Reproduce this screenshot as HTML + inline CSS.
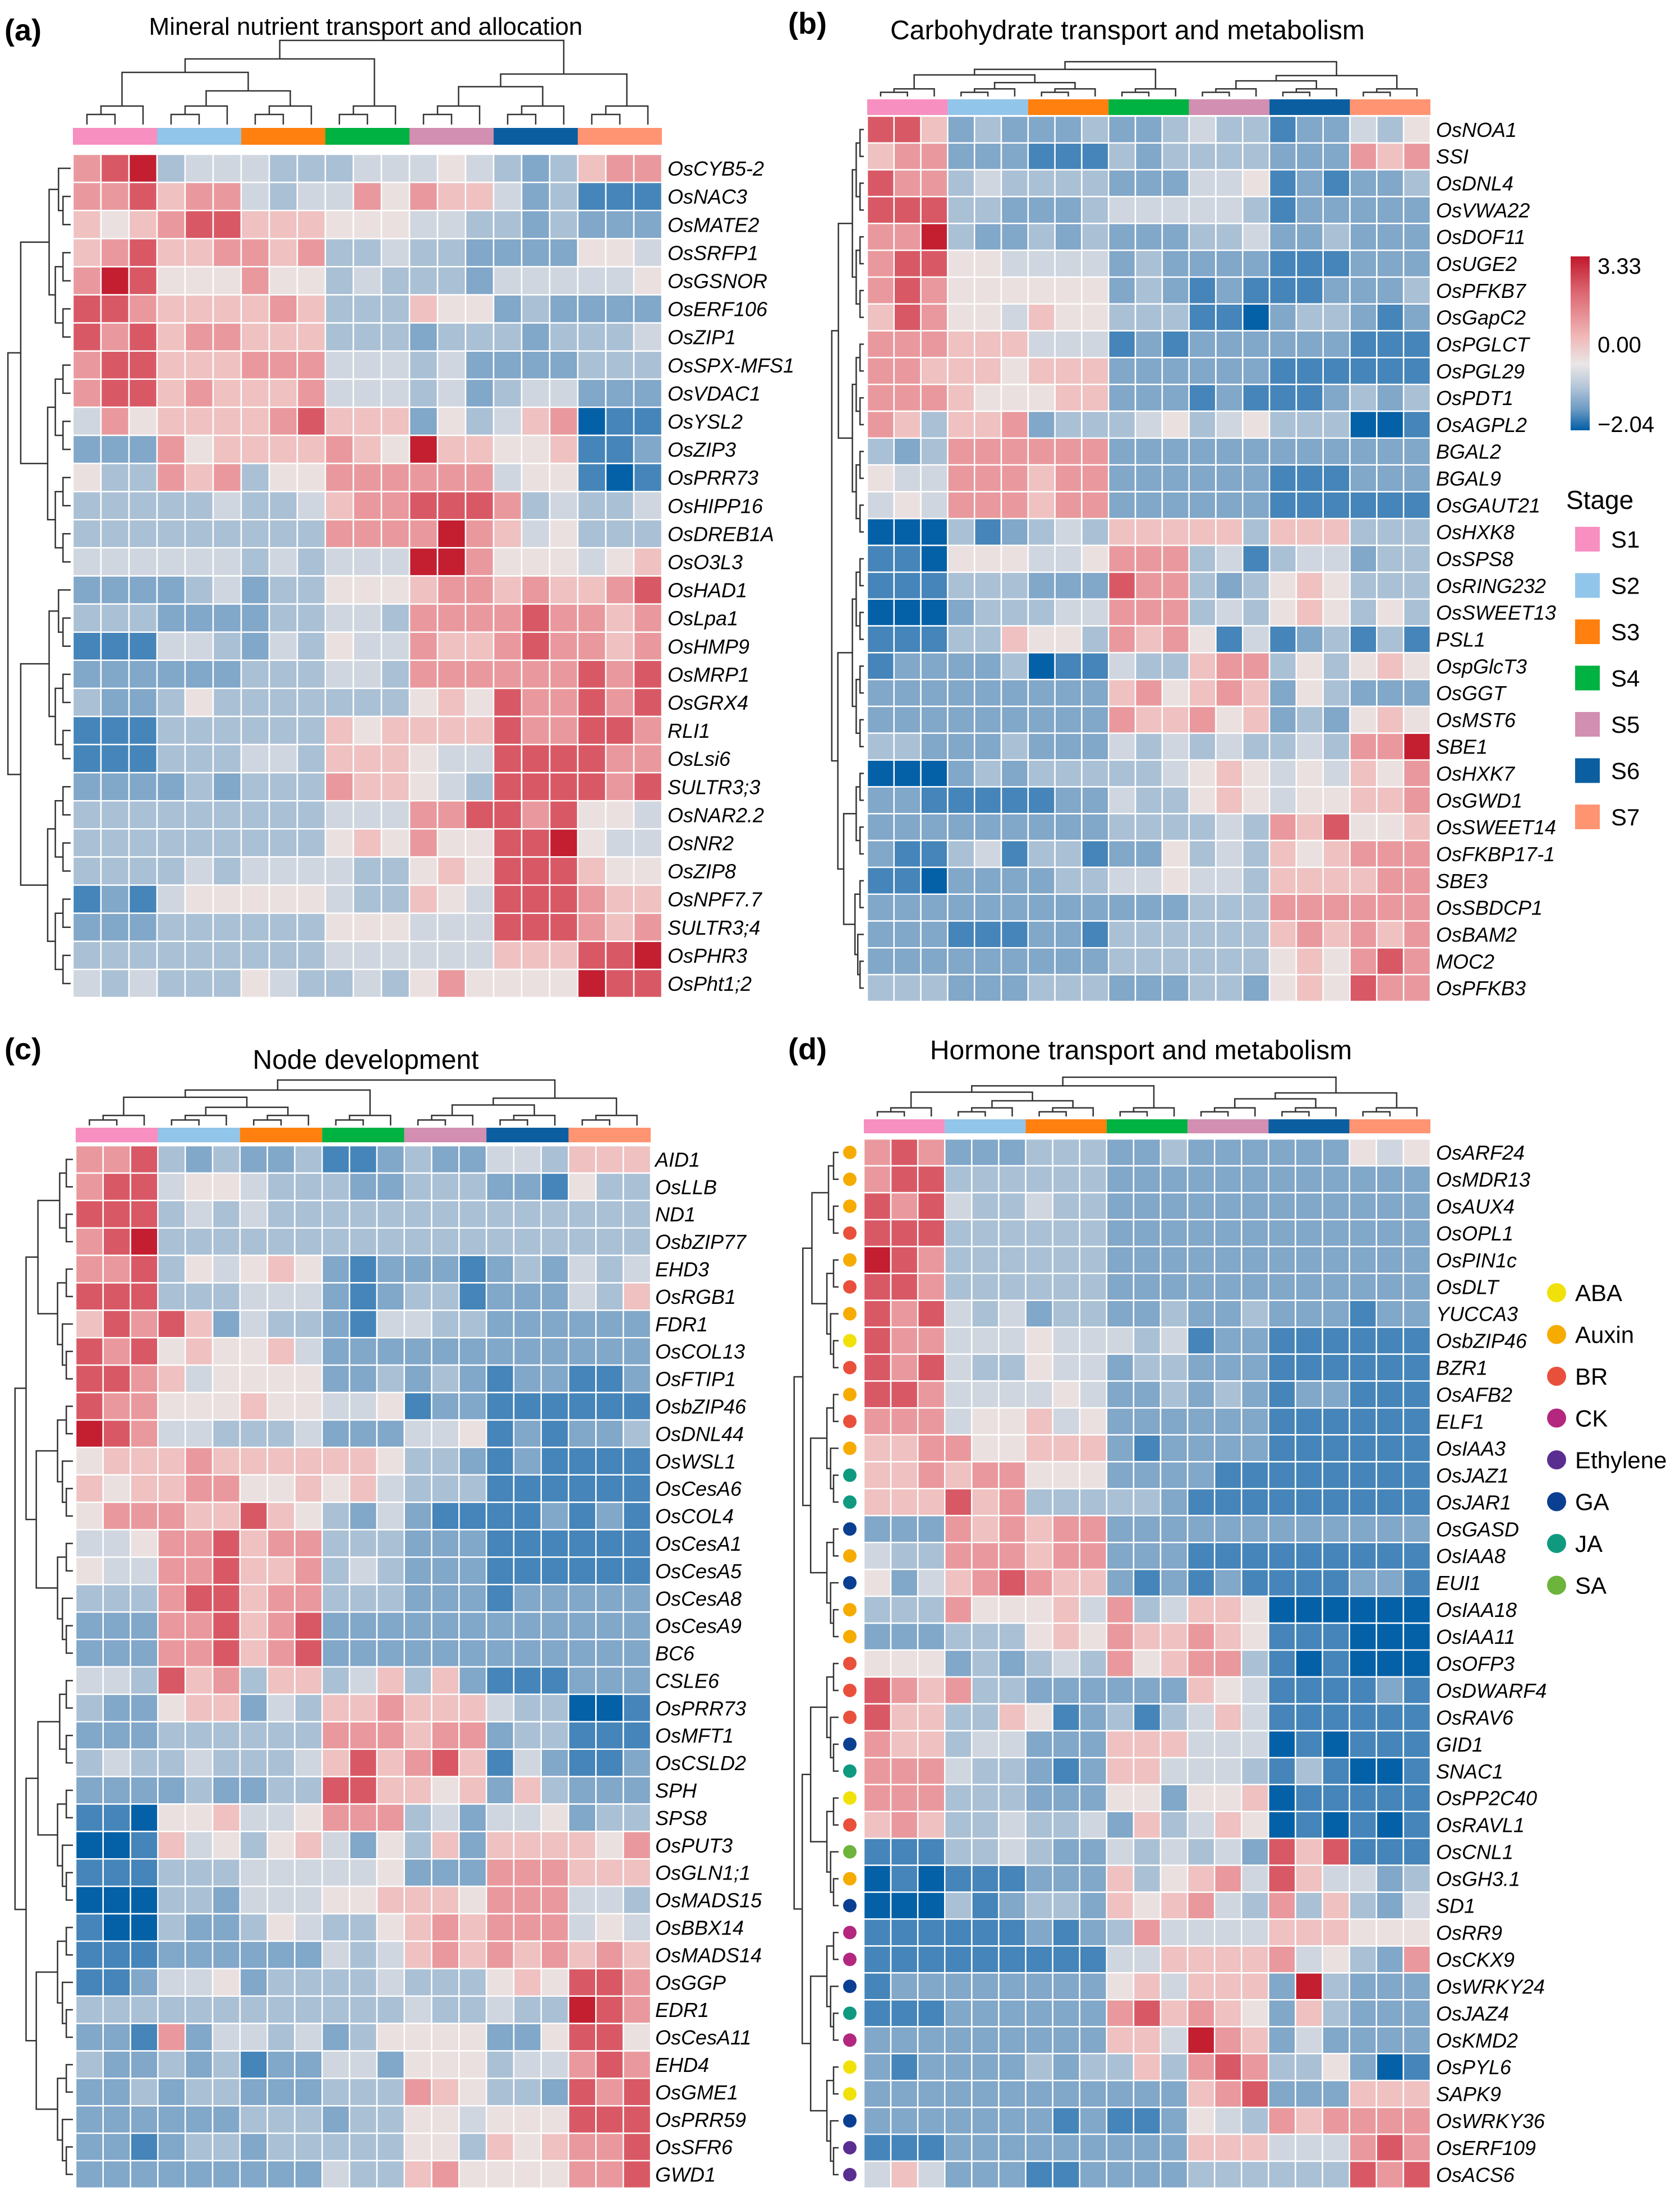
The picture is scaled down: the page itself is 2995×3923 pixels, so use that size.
<!DOCTYPE html>
<html><head><meta charset="utf-8"><style>
html,body{margin:0;padding:0;background:#fff;}
svg{display:block;font-family:"Liberation Sans",sans-serif;}
</style></head><body>
<svg id="fig" xmlns="http://www.w3.org/2000/svg" width="2995" height="3923" viewBox="0 0 2995 3923">
<rect width="2995" height="3923" fill="#fff"/>
<text x="8" y="72" font-size="54" font-weight="bold">(a)</text>
<text x="652" y="62" font-size="44" text-anchor="middle">Mineral nutrient transport and allocation</text>
<text x="1405" y="60" font-size="54" font-weight="bold">(b)</text>
<text x="2010" y="70" font-size="48" text-anchor="middle">Carbohydrate transport and metabolism</text>
<text x="8" y="1888" font-size="54" font-weight="bold">(c)</text>
<text x="652" y="1905" font-size="48" text-anchor="middle">Node development</text>
<text x="1405" y="1888" font-size="54" font-weight="bold">(d)</text>
<text x="2034" y="1888" font-size="48" text-anchor="middle">Hormone transport and metabolism</text>
<g id="layer"></g>
</svg>
<script>
// value codes: 0 = darkest blue ... 9 = darkest red
const codeValues=[-2.0,-1.5,-1.0,-0.6,-0.25,0.1,0.6,1.2,2.2,3.2];
const stageNames=["S1","S2","S3","S4","S5","S6","S7"];
const stageColors=["#f78fc0","#92c5ea","#ff800e","#00b241","#d28fb1","#0b5fa1","#ff9473"];

const labelsA=["OsCYB5-2","OsNAC3","OsMATE2","OsSRFP1","OsGSNOR","OsERF106","OsZIP1","OsSPX-MFS1","OsVDAC1","OsYSL2","OsZIP3","OsPRR73","OsHIPP16","OsDREB1A","OsO3L3","OsHAD1","OsLpa1","OsHMP9","OsMRP1","OsGRX4","RLI1","OsLsi6","SULTR3;3","OsNAR2.2","OsNR2","OsZIP8","OsNPF7.7","SULTR3;4","OsPHR3","OsPht1;2"];
const valuesA=["789344433344454323677","778677434475766423111","656788666555443323222","678667767334332222554","798555755343332444445","887666676333655232222","878677666333233323334","788666777444342222333","788676667444342344222","475666678666253467011","222756666765966556112","533767355777777455101","333334334677888734334","333333333777797645333","444444343444997555456","222234233555677676678","333222233443777787767","111443243544766787767","222222333443777777878","322353333333565877878","111333333656666877887","111333443666544888877","222232333766543888878","333333333444778878554","333333333565755889544","333343444433565888655","121455555433654888766","222333333555444888767","333333333444444666889","434333543343575555988"];

const labelsB=["OsNOA1","SSI","OsDNL4","OsVWA22","OsDOF11","OsUGE2","OsPFKB7","OsGapC2","OsPGLCT","OsPGL29","OsPDT1","OsAGPL2","BGAL2","BGAL9","OsGAUT21","OsHXK8","OsSPS8","OsRING232","OsSWEET13","PSL1","OspGlcT3","OsGGT","OsMST6","SBE1","OsHXK7","OsGWD1","OsSWEET14","OsFKBP17-1","SBE3","OsSBDCP1","OsBAM2","MOC2","OsPFKB3"];
const valuesB=["886232223223433122435","677222111323333222767","877343333222445121223","888332223444443122222","779322323222334223222","788554444232222111222","787555555232121112223","687554655333110233212","777666444121222222111","776665666222222111111","777655566222121112323","763667233345345333001","323777777222222222222","544777677222222111222","454777677222222111111","000312343666663666333","110555445777341344233","111333222877323565333","000233344777343565353","111336553767514123131","122223011433677353565","222222222675676253222","222222222766756232565","332223222434343343779","000232333334565454657","221111122433565455667","222222222333343768556","211341331225343656777","110222233445443666677","222222222222333777777","222111221333333676767","222222222333333565787","333222333222332565877"];

const labelsC=["AID1","OsLLB","ND1","OsbZIP77","EHD3","OsRGB1","FDR1","OsCOL13","OsFTIP1","OsbZIP46","OsDNL44","OsWSL1","OsCesA6","OsCOL4","OsCesA1","OsCesA5","OsCesA8","OsCesA9","BC6","CSLE6","OsPRR73","OsMFT1","OsCSLD2","SPH","SPS8","OsPUT3","OsGLN1;1","OsMADS15","OsBBX14","OsMADS14","OsGGP","EDR1","OsCesA11","EHD4","OsGME1","OsPRR59","OsSFR6","GWD1"];
const valuesC=["778323223112322443666","788455433322333221533","888343433333333333333","789333333333333333333","778354565212221232434","888333444212331222436","687862433214433222222","878565564222222222222","887645555223232122112","877555655445122111111","987443334222445121223","566676666665332121111","656677556564333111111","577766865324211112121","445778677333222111111","544778667343222111111","333788677333222122222","222778678222222222222","222778678222222222222","443867366346362111222","322566243667666433001","222333333777677233111","343343334686786142112","222232233886656263222","110556445777342445233","001645356425362666657","111333444445222777666","000332444556665777443","100322354335676777454","111222222434676767676","112445233334333565887","333333333333433433987","221724434235555225885","322323122442555344787","223233222333765332878","222222333233554555888","221233233333553656778","222222222433675555778"];

const labelsD=["OsARF24","OsMDR13","OsAUX4","OsOPL1","OsPIN1c","OsDLT","YUCCA3","OsbZIP46","BZR1","OsAFB2","ELF1","OsIAA3","OsJAZ1","OsJAR1","OsGASD","OsIAA8","EUI1","OsIAA18","OsIAA11","OsOFP3","OsDWARF4","OsRAV6","GID1","SNAC1","OsPP2C40","OsRAVL1","OsCNL1","OsGH3.1","SD1","OsRR9","OsCKX9","OsWRKY24","OsJAZ4","OsKMD2","OsPYL6","SAPK9","OsWRKY36","OsERF109","OsACS6"];
const valuesD=["787222333223222222545","788333333222222222222","878433433222222222222","888333333222222222222","987333333222222222222","887333333222222222222","878434233223223222122","877444544434122111111","878433544233222111111","887444454223232122111","777455645222222111111","667755666212222111111","667677555222211111111","666867333332111111111","222767677222222222222","433777677222111111111","524678766212121111221","333755564734665000000","222333565766765111000","555232343756773101000","876733222222654111121","866336512313464111111","766344222666444010111","777433212664443131001","777333222552556011111","676334334263465010101","111334322434342868111","010111222635674864423","000312332656743736324","111111212374444666555","111111111446666745327","122222222564666293222","111222222786765263222","222222222664976242222","212222323363787335201","222222222222678222666","222222212112543767777","111222222222666444787","464222112222333333878"];
const hormoneD=["Auxin","Auxin","Auxin","BR","Auxin","BR","Auxin","ABA","BR","Auxin","BR","Auxin","JA","JA","GA","Auxin","GA","Auxin","Auxin","BR","BR","BR","GA","JA","ABA","BR","SA","Auxin","GA","CK","CK","GA","JA","CK","ABA","ABA","GA","Ethylene","Ethylene"];
const hormoneNames=["ABA","Auxin","BR","CK","Ethylene","GA","JA","SA"];
const hormoneColors=["#f0e10a","#f6ab00","#e9503c","#b3287e","#5a2e91","#0b3f92","#0f9a80","#6cb43c"];

const NS="http://www.w3.org/2000/svg";
const layer=document.getElementById("layer");
function mk(tag,attrs,parent){const e=document.createElementNS(NS,tag);for(const k in attrs)e.setAttribute(k,attrs[k]);(parent||layer).appendChild(e);return e;}

const stops=[[-2.04,[0,94,166]],[-1.2,[108,154,195]],[-0.5,[180,198,216]],[0,[234,230,230]],[0.8,[240,180,180]],[2.0,[220,100,112]],[3.33,[192,24,42]]];
function colorOf(v){
  if(v<=stops[0][0])return "rgb("+stops[0][1].join(",")+")";
  for(let i=1;i<stops.length;i++){if(v<=stops[i][0]){const a=stops[i-1],b=stops[i];const t=(v-a[0])/(b[0]-a[0]);return "rgb("+a[1].map((c,j)=>Math.round(c+(b[1][j]-c)*t)).join(",")+")";}}
  return "rgb("+stops[stops.length-1][1].join(",")+")";
}

function drawPanel(p){
  const g=mk("g",{});
  
  
  const nR=p.values.length,nC=21;
  const cw=(p.x1-p.x0)/nC,rh=(p.y1-p.y0)/nR;
  const xScale=c=>p.x0+c*cw, yScale=r=>p.y0+r*rh;
  for(let s=0;s<7;s++){
    const b=mk("rect",{x:xScale(s*3),y:p.cb0,width:cw*3,height:p.cb1-p.cb0,fill:stageColors[s]},g);
    
    
  }
  for(let r=0;r<nR;r++){
    const row=p.values[r];
    for(let c=0;c<nC;c++){
      const v=codeValues[+row[c]];
      const cell=mk("rect",{x:xScale(c),y:yScale(r),width:cw,height:rh,fill:colorOf(v),stroke:"#fff","stroke-width":2.5},g);
      
      
    }
    const t=mk("text",{x:p.labX,y:yScale(r)+rh/2+13,"font-size":36,"font-style":"italic"},g);
    t.textContent=p.labels[r];
    
    
  }
  const td=mk("g",{stroke:"#333","stroke-width":2.5,fill:"none"},g);
  
  
  const H=p.tTop[1]-p.tTop[0];
  const yb=p.tTop[1];
  function link(x1,h1,x2,h2,h){
    const Y=v=>yb-v*H;
    mk("path",{d:`M${x1},${Y(h1)}V${Y(h)}H${x2}V${Y(h2)}`},td);
  }
  const gx=[];
  for(let s=0;s<7;s++){
    const a=xScale(s*3)+cw/2,b=a+cw,c=b+cw;
    link(a,0,b,0,0.12);link((a+b)/2,0.12,c,0,0.22);
    gx.push([(a+b)/2/2+c/2,0.22]);
  }
  function join(n1,n2,h){link(n1[0],n1[1],n2[0],n2[1],h);return[(n1[0]+n2[0])/2,h];}
  const g23=join(gx[1],gx[2],0.4),g56=join(gx[4],gx[5],0.45);
  const l=join(gx[0],g23,0.62),r2=join(g56,gx[6],0.6);
  const l2=join(l,gx[3],0.78);
  join(l2,r2,1.0);
  const ld=mk("g",{stroke:"#333","stroke-width":2.5,fill:"none"},g);
  
  
  const W=p.tLeft[1]-p.tLeft[0],xr=p.tLeft[1];
  const depth=Math.ceil(Math.log2(nR));
  function tree(i,j){
    if(j-i===1)return[yScale(i)+rh/2,0];
    const m=Math.floor((i+j)/2);
    const A=tree(i,m),B=tree(m,j);
    const h=Math.log2(j-i)/depth*(j-i>8?1:0.6);
    const X=v=>xr-v*W;
    mk("path",{d:`M${X(A[1])},${A[0]}H${X(h)}V${B[0]}H${X(B[1])}`},ld);
    return[(A[0]+B[0])/2,h];
  }
  tree(0,nR);
  return {xScale,yScale,rh};
}

drawPanel({name:"panel-a-heatmap",values:valuesA,labels:labelsA,x0:130,x1:1180,y0:275,y1:1778,cb0:228,cb1:258,labX:1190,tTop:[72,222],tLeft:[12,126]});
drawPanel({name:"panel-b-heatmap",values:valuesB,labels:labelsB,x0:1546,x1:2550,y0:207,y1:1785,cb0:177,cb1:205,labX:2560,tTop:[110,172],tLeft:[1472,1540]});
drawPanel({name:"panel-c-heatmap",values:valuesC,labels:labelsC,x0:135,x1:1160,y0:2042,y1:3900,cb0:2010,cb1:2036,labX:1168,tTop:[1925,2006],tLeft:[12,130]});
const pd=drawPanel({name:"panel-d-heatmap",values:valuesD,labels:labelsD,x0:1540,x1:2550,y0:2030,y1:3900,cb0:1995,cb1:2020,labX:2560,tTop:[1920,1990],tLeft:[1405,1495]});

for(let r=0;r<hormoneD.length;r++){
  const d=mk("circle",{cx:1515,cy:pd.yScale(r)+pd.rh/2,r:12,fill:hormoneColors[hormoneNames.indexOf(hormoneD[r])]});
  
  
}
for(let i=0;i<hormoneNames.length;i++){
  const y=2304+i*74.5;
  const c=mk("circle",{cx:2775,cy:y,r:17,fill:hormoneColors[i]});
  
  
  const t=mk("text",{x:2808,y:y+15,"font-size":42});
  t.textContent=hormoneNames[i];
  
  
}
const defs=mk("defs",{});
const lg=mk("linearGradient",{id:"cg",x1:0,y1:0,x2:0,y2:1},defs);
[[0,"#c0182a"],[0.2,"#dc6470"],[0.45,"#f0b4b4"],[0.62,"#eae6e6"],[0.75,"#b4c6d8"],[0.88,"#6c9ac3"],[1,"#005ea6"]].forEach(s=>mk("stop",{offset:s[0],"stop-color":s[1]},lg));
const cbar=mk("rect",{x:2800,y:457,width:34,height:310,fill:"url(#cg)"});


const cbTicks=["3.33","0.00","\u22122.04"];
const cbTickY=[488,628,770];
for(let i=0;i<3;i++){
  const t=mk("text",{x:2848,y:cbTickY[i],"font-size":40});
  t.textContent=cbTicks[i];
  
  
}
const st=mk("text",{x:2792,y:907,"font-size":46});
st.textContent="Stage";


for(let s=0;s<7;s++){
  const y=939+s*82.5;
  const r=mk("rect",{x:2808,y:y,width:44,height:44,fill:stageColors[s]});
  
  
  const t=mk("text",{x:2872,y:y+37,"font-size":42});
  t.textContent=stageNames[s];
  
  
}
</script>
</body></html>
